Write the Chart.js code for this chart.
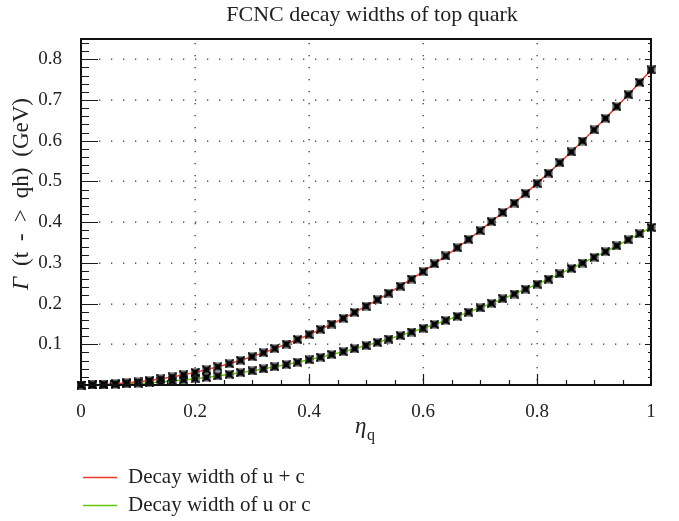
<!DOCTYPE html>
<html>
<head>
<meta charset="utf-8">
<script src="https://cdn.jsdelivr.net/npm/chart.js@4/dist/chart.umd.min.js"></script>
<style>
  html, body { margin: 0; padding: 0; background: #fff; }
  #wrap { width: 679px; height: 521px; }
</style>
</head>
<body>
<div id="wrap"><canvas id="c" width="679" height="521"></canvas></div>
<script>
// eta_q values (step 0.02)
const eta = [0,0.02,0.04,0.06,0.08,0.10,0.12,0.14,0.16,0.18,0.20,0.22,0.24,0.26,0.28,0.30,0.32,0.34,0.36,0.38,0.40,
             0.42,0.44,0.46,0.48,0.50,0.52,0.54,0.56,0.58,0.60,0.62,0.64,0.66,0.68,0.70,0.72,0.74,0.76,0.78,0.80,
             0.82,0.84,0.86,0.88,0.90,0.92,0.94,0.96,0.98,1.00];

// Gamma(t -> qh) in GeV, u + c
const widthUC = [0,0.0003,0.0012,0.0028,0.0050,0.0077,0.0111,0.0152,0.0198,0.0251,0.0310,
                 0.0375,0.0446,0.0523,0.0607,0.0697,0.0793,0.0895,0.1003,0.1118,0.1238,
                 0.1365,0.1498,0.1638,0.1783,0.1935,0.2093,0.2257,0.2427,0.2604,0.2786,
                 0.2975,0.3170,0.3372,0.3579,0.3793,0.4012,0.4238,0.4471,0.4709,0.4954,
                 0.5204,0.5461,0.5724,0.5994,0.6269,0.6551,0.6839,0.7133,0.7434,0.7740];

// Gamma(t -> qh) in GeV, u or c
const widthUorC = [0,0.0002,0.0006,0.0014,0.0025,0.0039,0.0056,0.0076,0.0099,0.0125,0.0155,
                   0.0187,0.0223,0.0262,0.0303,0.0348,0.0396,0.0447,0.0502,0.0559,0.0619,
                   0.0683,0.0749,0.0819,0.0892,0.0968,0.1046,0.1128,0.1214,0.1302,0.1393,
                   0.1488,0.1585,0.1686,0.1790,0.1896,0.2006,0.2119,0.2235,0.2355,0.2477,
                   0.2602,0.2731,0.2862,0.2997,0.3135,0.3276,0.3420,0.3567,0.3717,0.3870];

const seriesLabels = ['Decay width of u + c', 'Decay width of u or c'];
const seriesColors = ['#ee3a2a', '#63c70a'];

const xTicksMajor = [0, 0.2, 0.4, 0.6, 0.8, 1];
const yTicksMajor = [0, 0.1, 0.2, 0.3, 0.4, 0.5, 0.6, 0.7, 0.8];

const SERIF = '"Liberation Serif", "DejaVu Serif", serif';

// marker: dark cross on a soft square
function makeMarker() {
  const c = document.createElement('canvas');
  c.width = 9; c.height = 9;
  const g = c.getContext('2d');
  g.fillStyle = 'rgba(60,60,60,0.5)';
  g.fillRect(0, 0, 9, 9);
  g.fillStyle = '#0a0a0a';
  g.fillRect(1.5, 1.5, 6, 6);
  g.strokeStyle = '#000';
  g.lineWidth = 1.6;
  g.beginPath();
  g.moveTo(0.5, 0.5); g.lineTo(8.5, 8.5);
  g.moveTo(8.5, 0.5); g.lineTo(0.5, 8.5);
  g.stroke();
  return c;
}
const marker = makeMarker();

function toPoints(ys) { return eta.map((x, i) => ({ x: x, y: ys[i] })); }

// dotted grid, frame and inward ticks
const framePlugin = {
  id: 'frame',
  beforeDatasetsDraw(chart) {
    const { ctx, chartArea: a, scales: { x, y } } = chart;
    ctx.save();
    ctx.fillStyle = '#3a3a3a';
    for (const v of xTicksMajor) {
      if (v <= 0 || v >= 1) continue;
      const px = Math.round(x.getPixelForValue(v));
      for (let py = a.bottom - 6; py > a.top; py -= 12) ctx.fillRect(px - 0.5, py, 1.3, 1.3);
    }
    for (const v of yTicksMajor) {
      if (v <= 0) continue;
      const py = Math.round(y.getPixelForValue(v));
      for (let px = a.left + 18; px < a.right; px += 12) ctx.fillRect(px, py - 0.5, 1.3, 1.3);
    }
    ctx.restore();
  },
  afterDatasetsDraw(chart) {
    const { ctx, chartArea: a, scales: { x, y } } = chart;
    ctx.save();
    ctx.strokeStyle = '#1a1a1a';
    ctx.lineWidth = 1.2;
    ctx.beginPath();
    // left and right ticks every 0.02
    for (let k = 1; k <= 42; k++) {
      const v = k * 0.02;
      const py = Math.round(y.getPixelForValue(v)) + 0.5;
      const major = k % 5 === 0;
      ctx.moveTo(a.left, py); ctx.lineTo(a.left + (major ? 17 : 8), py);
      ctx.moveTo(a.right, py); ctx.lineTo(a.right - (major ? 6 : 3), py);
    }
    // bottom ticks every 0.05
    for (let k = 1; k < 20; k++) {
      const v = k * 0.05;
      const px = Math.round(x.getPixelForValue(v)) + 0.5;
      const major = k % 4 === 0;
      ctx.moveTo(px, a.bottom); ctx.lineTo(px, a.bottom - (major ? 11 : 5));
    }
    ctx.stroke();
    ctx.lineWidth = 2;
    ctx.strokeStyle = '#111';
    ctx.strokeRect(a.left, a.top, a.right - a.left, a.bottom - a.top);
    ctx.restore();
  },
  afterDraw(chart) {
    const { ctx } = chart;
    ctx.save();
    ctx.fillStyle = '#222';
    // title
    ctx.font = '22px ' + SERIF;
    ctx.textAlign = 'center';
    ctx.textBaseline = 'alphabetic';
    ctx.fillText('FCNC decay widths of top quark', 372, 21);

    // x axis title: eta_q
    ctx.textAlign = 'left';
    ctx.font = 'italic 23px ' + SERIF;
    ctx.fillText('\u03B7', 355, 433);
    ctx.font = '16px ' + SERIF;
    ctx.fillText('q', 367, 440);

    // y axis title, words laid out one by one along the axis
    ctx.translate(28, 194);
    ctx.rotate(-Math.PI / 2);
    const F = '23px ' + SERIF;
    const parts = [
      { t: '\u0393', f: 'italic ' + F },
      { t: '(t', f: F },
      { t: '-', f: F },
      { t: '>', f: F },
      { t: 'qh)', f: F },
      { t: '(GeV)', f: F }
    ];
    let wSum = 0;
    parts.forEach(p => { ctx.font = p.f; p.w = ctx.measureText(p.t).width; wSum += p.w; });
    const total = 192;
    const gap = (total - wSum) / (parts.length - 1);
    let cx = -total / 2;
    parts.forEach(p => { ctx.font = p.f; ctx.fillText(p.t, cx, 0); cx += p.w + gap; });
    ctx.restore();

    // legend below the plot
    ctx.save();
    ctx.font = '21px ' + SERIF;
    ctx.textBaseline = 'middle';
    ctx.textAlign = 'left';
    chart.data.datasets.forEach((ds, i) => {
      const ly = 477 + i * 28;
      ctx.strokeStyle = ds.borderColor;
      ctx.lineWidth = 1.5;
      ctx.beginPath();
      ctx.moveTo(83, ly + 0.5); ctx.lineTo(117, ly + 0.5);
      ctx.stroke();
      ctx.fillStyle = '#222';
      ctx.fillText(ds.label, 128, ly);
    });
    ctx.restore();
  }
};

new Chart(document.getElementById('c'), {
  type: 'line',
  data: {
    datasets: [
      { label: seriesLabels[0], data: toPoints(widthUC), borderColor: seriesColors[0] },
      { label: seriesLabels[1], data: toPoints(widthUorC), borderColor: seriesColors[1] }
    ].map(d => Object.assign(d, {
      borderWidth: 1.5,
      tension: 0,
      pointStyle: marker,
      pointRadius: 4,
      pointHoverRadius: 4,
      clip: false
    }))
  },
  options: {
    responsive: false,
    animation: false,
    events: [],
    layout: { padding: { left: 0, top: 39, right: 28, bottom: 0 } },
    plugins: { legend: { display: false }, title: { display: false }, tooltip: { enabled: false } },
    scales: {
      x: {
        type: 'linear',
        min: 0, max: 1,
        grid: { display: false },
        border: { display: false },
        afterBuildTicks: s => { s.ticks = xTicksMajor.map(v => ({ value: v })); },
        ticks: {
          padding: 8,
          color: '#222',
          font: { family: SERIF, size: 19 },
          maxRotation: 0,
          autoSkip: false,
          callback: v => String(Number(v.toFixed(1)))
        },
        afterFit: s => { s.height = 136; }
      },
      y: {
        type: 'linear',
        min: 0, max: 0.85,
        grid: { display: false },
        border: { display: false },
        afterBuildTicks: s => { s.ticks = yTicksMajor.map(v => ({ value: v })); },
        ticks: {
          padding: 11,
          color: '#222',
          font: { family: SERIF, size: 19 },
          autoSkip: false,
          callback: v => v > 0.05 ? v.toFixed(1) : ''
        },
        afterFit: s => { s.width = 81; }
      }
    }
  },
  plugins: [framePlugin]
});
</script>
</body>
</html>
